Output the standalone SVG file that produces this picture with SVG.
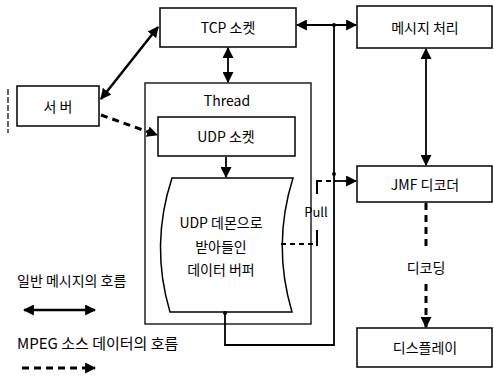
<svg xmlns="http://www.w3.org/2000/svg" width="494" height="376" viewBox="0 0 494 376">
<style>
.box{fill:#fff;stroke:#000;stroke-width:1.5}
.frame{fill:none;stroke:#000;stroke-width:1.3}
.t{font-family:"Noto Sans CJK KR","Noto Sans",sans-serif;font-size:14px;fill:#000;text-anchor:middle;dominant-baseline:central}
.tl{font-family:"Noto Sans CJK KR","Noto Sans",sans-serif;font-size:14px;fill:#000;dominant-baseline:central}
.solid{fill:none;stroke:#000;stroke-width:2.5}
.thin{fill:none;stroke:#000;stroke-width:1.8}
.dash{fill:none;stroke:#000;stroke-width:3;stroke-dasharray:7 5}
.dashthin{fill:none;stroke:#000;stroke-width:2.2;stroke-dasharray:5 4}
</style>
<defs>
<marker id="ah" viewBox="0 0 10 10" refX="9" refY="5" markerWidth="11" markerHeight="11" markerUnits="userSpaceOnUse" orient="auto-start-reverse">
<path d="M0,0 L10,5 L0,10 Z" fill="#000"/>
</marker>
</defs>
<g id="thread">
<rect class="frame" x="145" y="83" width="166" height="241"/>
<text class="t" x="227" y="100">Thread</text>
</g>
<g id="tcp"><rect class="box" x="160" y="8" width="136" height="39"/><text class="t" x="228" y="27">TCP 소켓</text></g>
<g id="msg"><rect class="box" x="357" y="6" width="135" height="42"/><text class="t" x="425" y="27">메시지 처리</text></g>
<g id="server"><rect class="box" x="17" y="86" width="82" height="40"/><text class="t" x="58" y="106">서 버</text></g>
<line x1="8" y1="89" x2="8" y2="133" stroke="#000" stroke-width="1.2" stroke-dasharray="6 2"/>
<g id="udp"><rect class="box" x="158" y="117" width="137" height="39"/><text class="t" x="226" y="136">UDP 소켓</text></g>
<g id="buffer">
<path class="box" d="M172,178 L293,178 Q272,245 292,312 L170,312 Q150,245 172,178 Z"/>
<text class="t" x="221" y="222">UDP 데몬으로</text>
<text class="t" x="221" y="246">받아들인</text>
<text class="t" x="221" y="269">데이터 버퍼</text>
</g>
<g id="jmf"><rect class="box" x="357" y="166" width="135" height="36"/><text class="t" x="425" y="184">JMF 디코더</text></g>
<g id="display"><rect class="box" x="357" y="328" width="135" height="39"/><text class="t" x="425" y="347">디스플레이</text></g>
<g id="connectors">
<line class="solid" x1="101" y1="99" x2="158" y2="27" marker-start="url(#ah)" marker-end="url(#ah)" stroke-width="3"/>
<line class="dash" x1="101" y1="115" x2="157" y2="135" marker-end="url(#ah)" stroke-dasharray="10 5 4 5"/>
<line class="thin" x1="228" y1="48" x2="228" y2="82" marker-start="url(#ah)" marker-end="url(#ah)"/>
<line class="thin" x1="226" y1="157" x2="226" y2="177" marker-end="url(#ah)"/>
<line class="thin" x1="297" y1="25" x2="356" y2="25" marker-start="url(#ah)" marker-end="url(#ah)"/>
<circle cx="334" cy="25" r="2" fill="#000"/>
<path class="thin" d="M225,312 V345 H334 V25"/>
<circle cx="225" cy="313" r="2" fill="#000"/>
<circle cx="334" cy="174" r="2" fill="#000"/>
<line class="thin" x1="426" y1="49" x2="426" y2="165" marker-start="url(#ah)" marker-end="url(#ah)"/>
<line class="dash" x1="426" y1="203" x2="426" y2="251"/>
<line class="dash" x1="426" y1="284" x2="426" y2="327" marker-end="url(#ah)"/>
<text class="t" x="426" y="267">디코딩</text>
<path class="dashthin" d="M281,244 H317"/>
<line x1="317" y1="230" x2="317" y2="246" stroke="#000" stroke-width="2"/>
<line x1="317" y1="180" x2="317" y2="194" stroke="#000" stroke-width="2"/>
<path class="dashthin" d="M317,181 H334"/>
<line class="thin" x1="334" y1="181" x2="356" y2="181" marker-end="url(#ah)" stroke-width="2.5"/>
<text class="t" x="316" y="211" style="font-size:13px">Pull</text>
</g>
<g id="legend">
<text class="tl" x="17" y="280">일반 메시지의 호름</text>
<line class="solid" x1="24" y1="310" x2="95" y2="310" marker-start="url(#ah)" marker-end="url(#ah)"/>
<text class="tl" x="17" y="342" style="font-size:15px">MPEG 소스 데이터의 호름</text>
<line class="dash" x1="22" y1="368" x2="95" y2="368" marker-end="url(#ah)" stroke-dasharray="12 5 5 5"/>
</g>
</svg>
